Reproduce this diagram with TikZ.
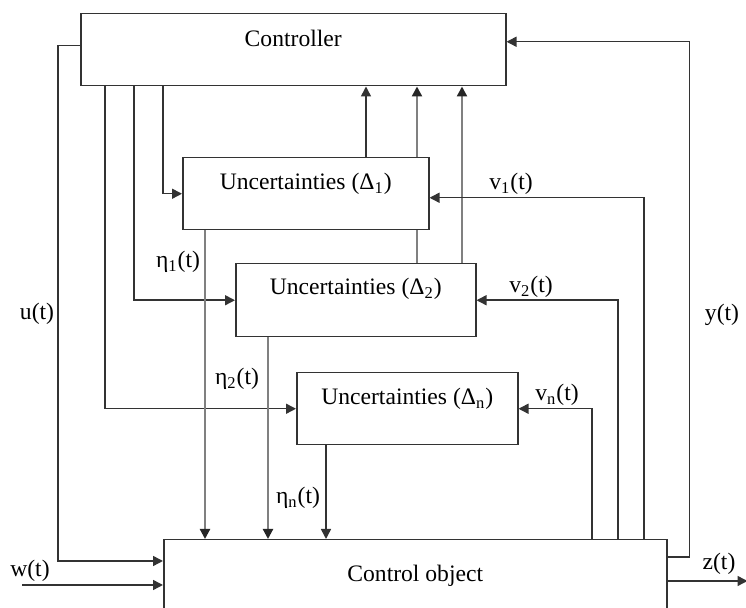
\documentclass[tikz,border=0pt]{standalone}
\usepackage{fontspec}
\setmainfont{Liberation Serif}
\usetikzlibrary{arrows.meta,calc}
\begin{document}
\begin{tikzpicture}[x=0.5pt,y=-0.5pt,
  font=\fontsize{11.8}{14}\selectfont,
  blk/.style={rectangle,draw=black!80,line width=0.75pt,fill=white,inner xsep=0pt,inner ysep=0pt},
  sig/.style={draw=black!80,line width=0.75pt,-{Triangle[length=5pt,width=5pt]}},
  sigg/.style={draw=black!50,line width=1.1pt,-{Triangle[length=5pt,width=5pt,fill=black!85,color=black!85]}},
  lnk/.style={draw=black!80,line width=0.75pt},
  lnkg/.style={draw=black!50,line width=1.1pt},
  lbl/.style={inner sep=0pt}]
  \clip (0,0) rectangle (746,608);
  % blocks
  \node (Controller) [blk,anchor=north west,minimum width=212.5pt,text height=16.4pt,text depth=19.6pt] at (80,13) {Controller};
  \node (Unc1) [blk,anchor=north west,minimum width=123pt,text height=16pt,text depth=20pt] at (182,157) {Uncertainties (Δ\textsubscript{1})};
  \node (Unc2) [blk,anchor=north west,minimum width=120pt,text height=15.4pt,text depth=21.1pt] at (235,263) {Uncertainties (Δ\textsubscript{2})};
  \node (Uncn) [blk,anchor=north west,minimum width=110.5pt,text height=16pt,text depth=20pt] at (296,372) {Uncertainties (Δ\textsubscript{n})};
  \node (Plant) [blk,anchor=north west,minimum width=251.5pt,text height=21pt,text depth=24pt] at (163,539) {Control object};

  % controller -> uncertainties
  \draw[sig] ($(Controller.south west)+(25,0)$) |- (Uncn.west);
  \draw[sig] ($(Controller.south west)+(54,0)$) |- (Unc2.west);
  \draw[sig] ($(Controller.south west)+(83,0)$) |- (Unc1.west);

  % uncertainties -> controller
  \coordinate (a1) at ($(Unc1.north west)+(184,0)$);
  \coordinate (a2) at ($(Unc2.north west)+(182,0)$);
  \coordinate (a3) at ($(Unc2.north west)+(227,0)$);
  \draw[sig] (a1) -- (a1 |- Controller.south);
  \draw[lnkg] (a2) -- (a2 |- Unc1.south);
  \draw[sigg] (a2 |- Unc1.north) -- (a2 |- Controller.south);
  \draw[sigg] (a3) -- (a3 |- Controller.south);

  % uncertainties -> control object
  \coordinate (e1) at ($(Unc1.south west)+(23,0)$);
  \coordinate (e2) at ($(Unc2.south west)+(33,0)$);
  \coordinate (en) at ($(Uncn.south west)+(30,0)$);
  \draw[sigg] (e1) -- (e1 |- Plant.north);
  \draw[sigg] (e2) -- (e2 |- Plant.north);
  \draw[sig] (en) -- (en |- Plant.north);
  \node (eta1) [lbl] at (178,262) {η\textsubscript{1}(t)};
  \node (eta2) [lbl] at (237,379) {η\textsubscript{2}(t)};
  \node (etan) [lbl] at (298,498) {η\textsubscript{n}(t)};

  % control object -> uncertainties
  \coordinate (fn) at ($(Plant.north west)+(429,0)$);
  \coordinate (f2) at ($(Plant.north west)+(455,0)$);
  \coordinate (f1) at ($(Plant.north west)+(481,0)$);
  \draw[sig] (fn) |- (Uncn.east);
  \draw[sig] (f2) |- (Unc2.east);
  \draw[sig] (f1) |- ($(Unc1.east)+(0,4)$);
  \node (v1) [lbl] at (511,184) {v\textsubscript{1}(t)};
  \node (v2) [lbl] at (531,287) {v\textsubscript{2}(t)};
  \node (vn) [lbl] at (557,395) {v\textsubscript{n}(t)};

  % outer loop
  \coordinate (yout) at ($(Plant.north east)+(0,18)$);
  \coordinate (yin) at ($(Controller.east)+(0,-8)$);
  \draw[sig] (yout) -- ++(22,0) |- (yin);
  \node (ylab) [lbl] at (722,315) {y(t)};
  \coordinate (uout) at ($(Controller.west)+(0,-4)$);
  \draw[sig] (uout) -- ++(-22,0) |- ($(Plant.north west)+(0,22)$);
  \node (ulab) [lbl] at (37,314) {u(t)};
  \coordinate (win) at (22,585);
  \draw[sig] (win) -- (win -| Plant.west);
  \node (wlab) [lbl] at (30,571) {w(t)};
  \coordinate (zout) at ($(Plant.north east)+(0,42)$);
  \draw[sig] (zout) -- ++(80,0);
  \node (zlab) [lbl] at (719,564) {z(t)};
\end{tikzpicture}
\end{document}
